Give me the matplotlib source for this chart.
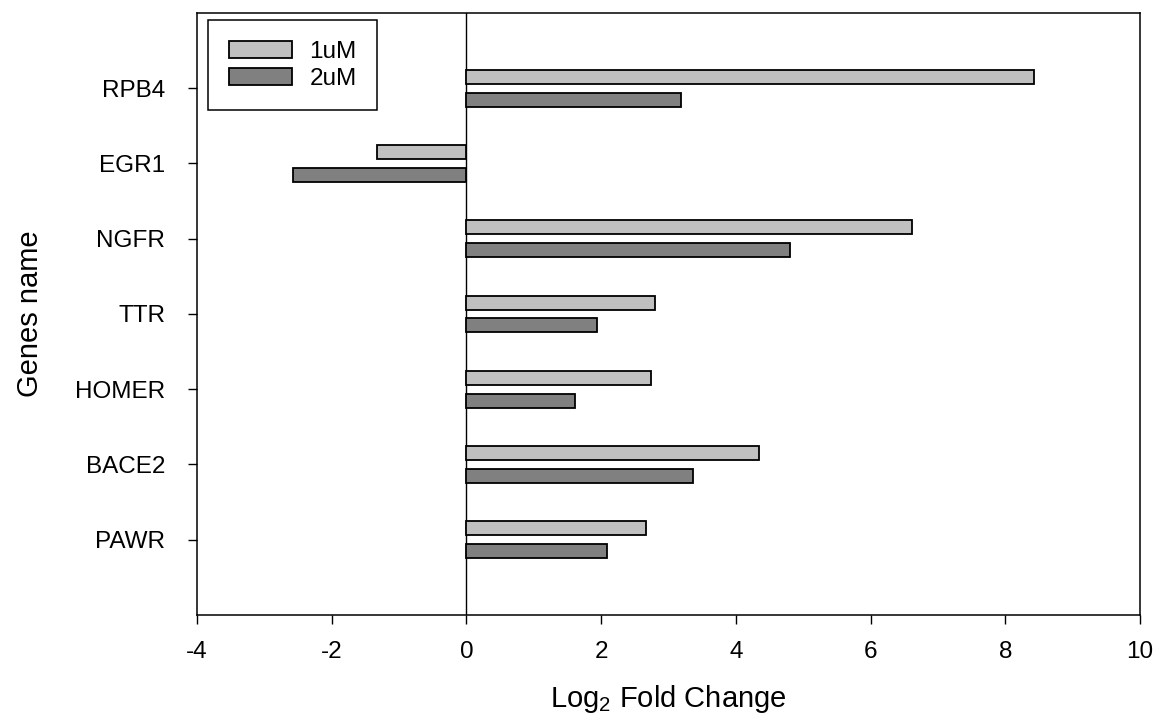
import numpy as np
import matplotlib
matplotlib.use("Agg")
import matplotlib.pyplot as plt

plt.rcParams['font.family'] = ['Liberation Sans', 'DejaVu Sans']
plt.rcParams['mathtext.fontset'] = 'custom'
plt.rcParams['mathtext.rm'] = 'Liberation Sans'
plt.rcParams['mathtext.default'] = 'regular'
plt.rcParams['axes.unicode_minus'] = False

# log2 fold change per gene at the two doses
genes = ['RPB4', 'EGR1', 'NGFR', 'TTR', 'HOMER', 'BACE2', 'PAWR']
fc_1um = [8.42, -1.33, 6.61, 2.80, 2.74, 4.35, 2.66]
fc_2um = [3.18, -2.58, 4.80, 1.94, 1.61, 3.37, 2.09]
doses = ['1uM', '2uM']
colors = ['#c0c0c0', '#808080']

ypos = np.arange(len(genes), 0, -1)

fig = plt.figure(figsize=(11.57, 7.18), dpi=100)
ax = fig.add_axes([0.1703, 0.1435, 0.8150, 0.8384])

ax.barh(ypos + 0.15, fc_1um, height=0.186, color=colors[0],
        edgecolor='black', linewidth=1.3, label=doses[0], zorder=3)
ax.barh(ypos - 0.15, fc_2um, height=0.186, color=colors[1],
        edgecolor='black', linewidth=1.3, label=doses[1], zorder=3)

ax.axvline(0, color='black', linewidth=1.0, zorder=2)

ax.set_xlim(-4, 10)
ax.set_ylim(0, 8)
ax.set_xticks(range(-4, 11, 2))
ax.set_yticks(ypos)
ax.set_yticklabels(genes)

for sp in ax.spines.values():
    sp.set_linewidth(1.1)
    sp.set_color('black')

ax.tick_params(axis='both', direction='out', length=6.5, width=1.0,
               top=False, right=False, labelsize=17.5)
ax.tick_params(axis='x', pad=12.5)
ax.tick_params(axis='y', pad=16.5)

ax.set_xlabel('Log$_2$ Fold Change', fontsize=21, labelpad=14)
ax.set_ylabel('Genes name', fontsize=21, labelpad=22)

leg = ax.legend(loc='upper left', bbox_to_anchor=(0.0117, 0.988),
                borderaxespad=0, fontsize=17.5, fancybox=False,
                framealpha=1, edgecolor='black', handlelength=2.6,
                handleheight=0.68, handletextpad=0.72, labelspacing=0.2,
                borderpad=0.85)
leg.get_frame().set_linewidth(1.1)

fig.savefig('out.png', dpi=100)
